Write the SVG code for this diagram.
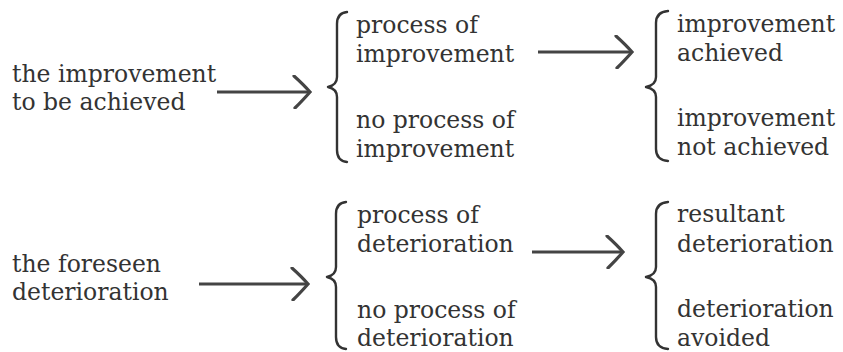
<svg xmlns="http://www.w3.org/2000/svg" width="843" height="352" viewBox="0 0 843 352">
<style>
text{font-family:"DejaVu Serif","Liberation Serif",serif;font-size:23.5px;fill:#333}
.brace{fill:none;stroke:#333;stroke-width:2.4;stroke-linecap:round;stroke-linejoin:round}
.arrow{stroke:#444;stroke-width:3.2;fill:none}
</style>
<defs>
<marker id="chev" viewBox="0 0 20 34" refX="18" refY="17" markerWidth="20" markerHeight="34" markerUnits="userSpaceOnUse" orient="auto">
<path d="M 2 1 Q 12 10 18 17 Q 12 24 3 33" fill="none" stroke="#444" stroke-width="3.2" stroke-linecap="round"/>
</marker>
</defs>
<rect width="843" height="352" fill="#fff"/>
<g id="src1"><text x="12" y="82">the improvement</text><text x="12" y="110">to be achieved</text></g>
<g id="mid1">
<path class="brace" d="M 347 12 Q 337 13 337 24 L 337 77 Q 337 85 328 87 Q 337 89 337 97 L 337 150 Q 337 161 347 162"/>
<text x="356" y="33">process of</text><text x="356" y="62">improvement</text>
<text x="356" y="128">no process of</text><text x="356" y="157">improvement</text>
</g>
<g id="res1">
<path class="brace" d="M 668 11 Q 656 12 656 23 L 656 77 Q 656 85 646 87 Q 656 89 656 97 L 656 149 Q 656 160 668 161"/>
<text x="677" y="32">improvement</text><text x="677" y="61">achieved</text>
<text x="677" y="126">improvement</text><text x="677" y="155">not achieved</text>
</g>
<g id="src2"><text x="12" y="272">the foreseen</text><text x="12" y="300">deterioration</text></g>
<g id="mid2">
<path class="brace" d="M 346 202 Q 336 203 336 214 L 336 267 Q 336 275 327 277 Q 336 279 336 287 L 336 337 Q 336 348 346 349"/>
<text x="357" y="223">process of</text><text x="357" y="252">deterioration</text>
<text x="357" y="318">no process of</text><text x="357" y="346">deterioration</text>
</g>
<g id="res2">
<path class="brace" d="M 668 202 Q 656 203 656 214 L 656 267 Q 656 275 646 277 Q 656 279 656 287 L 656 337 Q 656 348 668 349"/>
<text x="677" y="222">resultant</text><text x="677" y="252">deterioration</text>
<text x="677" y="317">deterioration</text><text x="677" y="346">avoided</text>
</g>
<g id="connectors">
<line class="arrow" x1="217" y1="92" x2="310" y2="92" marker-end="url(#chev)"/>
<line class="arrow" x1="538" y1="52" x2="632" y2="52" marker-end="url(#chev)"/>
<line class="arrow" x1="199" y1="284" x2="308" y2="284" marker-end="url(#chev)"/>
<line class="arrow" x1="532" y1="252" x2="623" y2="252" marker-end="url(#chev)"/>
</g>
</svg>
